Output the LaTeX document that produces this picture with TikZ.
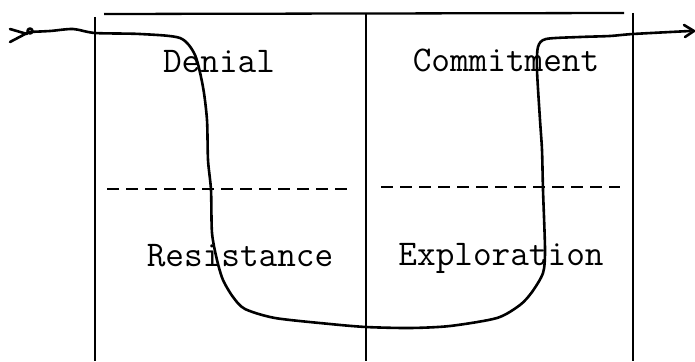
\documentclass[tikz,border=0pt]{standalone}
\usepackage{fontspec}
\begin{document}
\begin{tikzpicture}[x=1pt,y=-1pt,
  grid/.style={line width=1.8pt,black},
  divider/.style={line width=1.8pt,black,dash pattern=on 12pt off 7pt},
  path/.style={line width=2.6pt,black,line cap=round,line join=round},
  label/.style={font=\ttfamily\fontsize{36.2}{40}\selectfont,anchor=base,inner sep=0pt}]
\useasboundingbox (0,0) rectangle (695,361);
% frame
\draw[grid] (95,17) -- (95,361);
\draw[grid] (366,14) -- (366,361);
\draw[grid] (633,13) -- (633,361);
\draw[line width=2.3pt] (104,14) -- (624,13);
% dashed dividers
\draw[divider] (107,189) -- (352,189);
\draw[divider] (381,187) -- (620,187);
% labels
\node[label] (den) at (219,72) {Denial};
\node[label] (com) at (506,71) {Commitment};
\node[label] (res) at (240,266) {Resistance};
\node[label] (exp) at (501,265) {Exploration};
% path curve
\draw[path] plot[smooth,tension=0.45] coordinates {
 (28,32) (50,31) (73,29) (95,33) (140,34) (180,38) (195,55) (203,87)
 (207,120) (208,160) (211,190) (212,233) (217,260) (223,280) (233,297)
 (245,309) (275,318) (330,324) (366,327) (410,328) (450,326) (497,318)
 (520,305) (532,292) (543,273) (545,250) (543,190) (542,150) (540,120)
 (537,70) (538,47) (546,39) (580,37) (610,36) (633,34) (690,31)};
% tail
\draw[path] (10,29) -- (27,34);
\draw[path] (10,42) -- (29,32);
\draw[path] (30,31) circle (2.5);
% head
\draw[path] (684,25) -- (694,31) -- (685,37);
\end{tikzpicture}
\end{document}
